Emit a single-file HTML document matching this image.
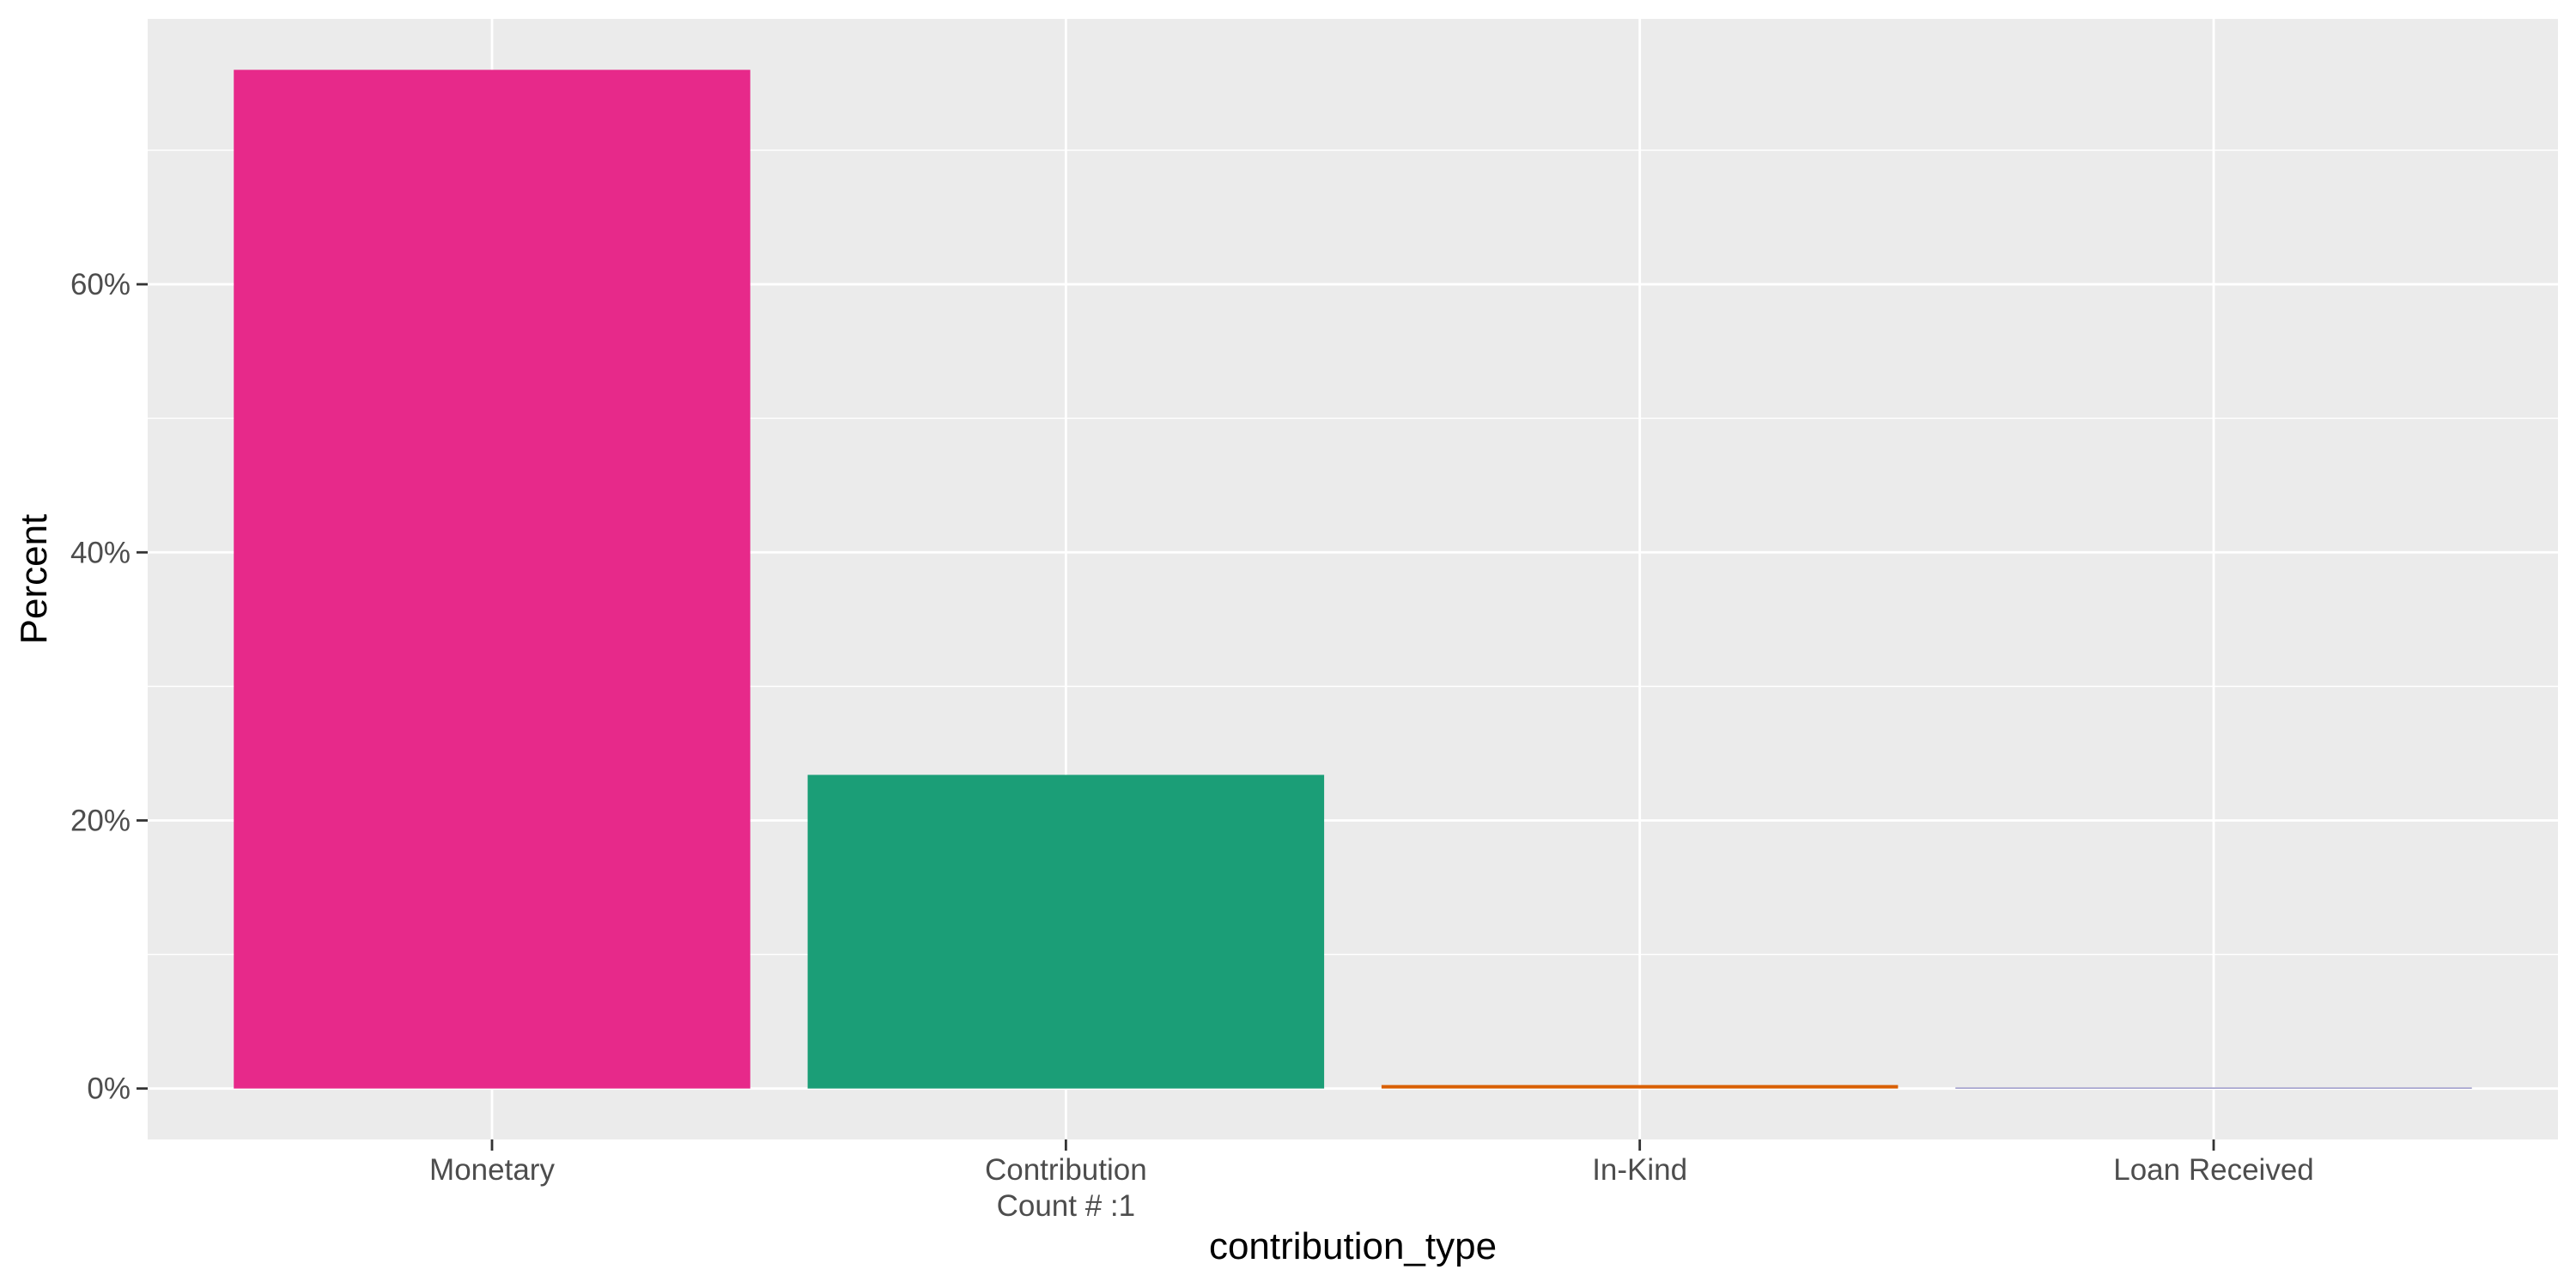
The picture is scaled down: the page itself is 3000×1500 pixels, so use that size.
<!DOCTYPE html>
<html><head><meta charset="utf-8"><style>html,body{margin:0;padding:0;background:#fff}svg{display:block}</style></head>
<body>
<svg id="chart" width="3000" height="1500" viewBox="0 0 3000 1500" xmlns="http://www.w3.org/2000/svg" font-family="'Liberation Sans', sans-serif"></svg>
<script>
const categories = ["Monetary", "Contribution\nCount # :1", "In-Kind", "Loan Received"];
const percentValues = [76.0, 23.4, 0.26, 0.07];
const barColors = ["#E7298A", "#1B9E77", "#D95F02", "#7570B3"];
const yTicks = [0, 20, 40, 60];
const yTickLabels = ["0%", "20%", "40%", "60%"];
const yMinor = [10, 30, 50, 70];

const NS = "http://www.w3.org/2000/svg";
const svg = document.getElementById("chart");
const P = {l:172, r:2979, t:22, b:1327};
const yMax = Math.max(...percentValues);
const yLo = -0.05*yMax, yHi = 1.05*yMax;
function y(v){ return P.b - (v - yLo)/(yHi - yLo)*(P.b - P.t); }
const unit = (P.r - P.l)/(categories.length - 1 + 1.2);
function x(i){ return P.l + (0.6 + i)*unit; }
function mk(tag, attrs){ const e = document.createElementNS(NS, tag); for (const k in attrs) e.setAttribute(k, attrs[k]); svg.appendChild(e); return e; }

const bg = mk("rect", {x:P.l, y:P.t, width:P.r-P.l, height:P.b-P.t, fill:"#EBEBEB"});


yMinor.forEach(v => {
  const l = mk("line", {x1:P.l, x2:P.r, y1:y(v), y2:y(v), stroke:"#fff", "stroke-width":1.4});
  
  
});
yTicks.forEach((v, i) => {
  const l = mk("line", {x1:P.l, x2:P.r, y1:y(v), y2:y(v), stroke:"#fff", "stroke-width":2.8});
  
  
  const t = mk("line", {x1:P.l-13, x2:P.l, y1:y(v), y2:y(v), stroke:"#333", "stroke-width":2.8});
  
  
  const tx = mk("text", {x:P.l-20, y:y(v)+12, "text-anchor":"end", "font-size":35, fill:"#4D4D4D"});
  tx.textContent = yTickLabels[i];
  
  
});
categories.forEach((c, i) => {
  const g = mk("line", {x1:x(i), x2:x(i), y1:P.t, y2:P.b, stroke:"#fff", "stroke-width":2.8});
  
  
});
categories.forEach((c, i) => {
  const w = 0.9*unit;
  const r = mk("rect", {x:x(i)-w/2, y:y(percentValues[i]), width:w, height:Math.max(0, y(0)-y(percentValues[i])), fill:barColors[i]});
  
  
  const t = mk("line", {x1:x(i), x2:x(i), y1:P.b, y2:P.b+13, stroke:"#333", "stroke-width":2.8});
  
  
  c.split("\n").forEach((line, j) => {
    const tx = mk("text", {x:x(i), y:1374 + j*42, "text-anchor":"middle", "font-size":35, fill:"#4D4D4D"});
    tx.textContent = line;
    
    
  });
});
const xt = mk("text", {x:(P.l+P.r)/2, y:1466, "text-anchor":"middle", "font-size":44, fill:"#000"});
xt.textContent = "contribution_type";


const yt = mk("text", {x:0, y:0, "text-anchor":"middle", "font-size":44, fill:"#000", transform:"translate(54," + ((P.t+P.b)/2) + ") rotate(-90)"});
yt.textContent = "Percent";


</script>
</body></html>
